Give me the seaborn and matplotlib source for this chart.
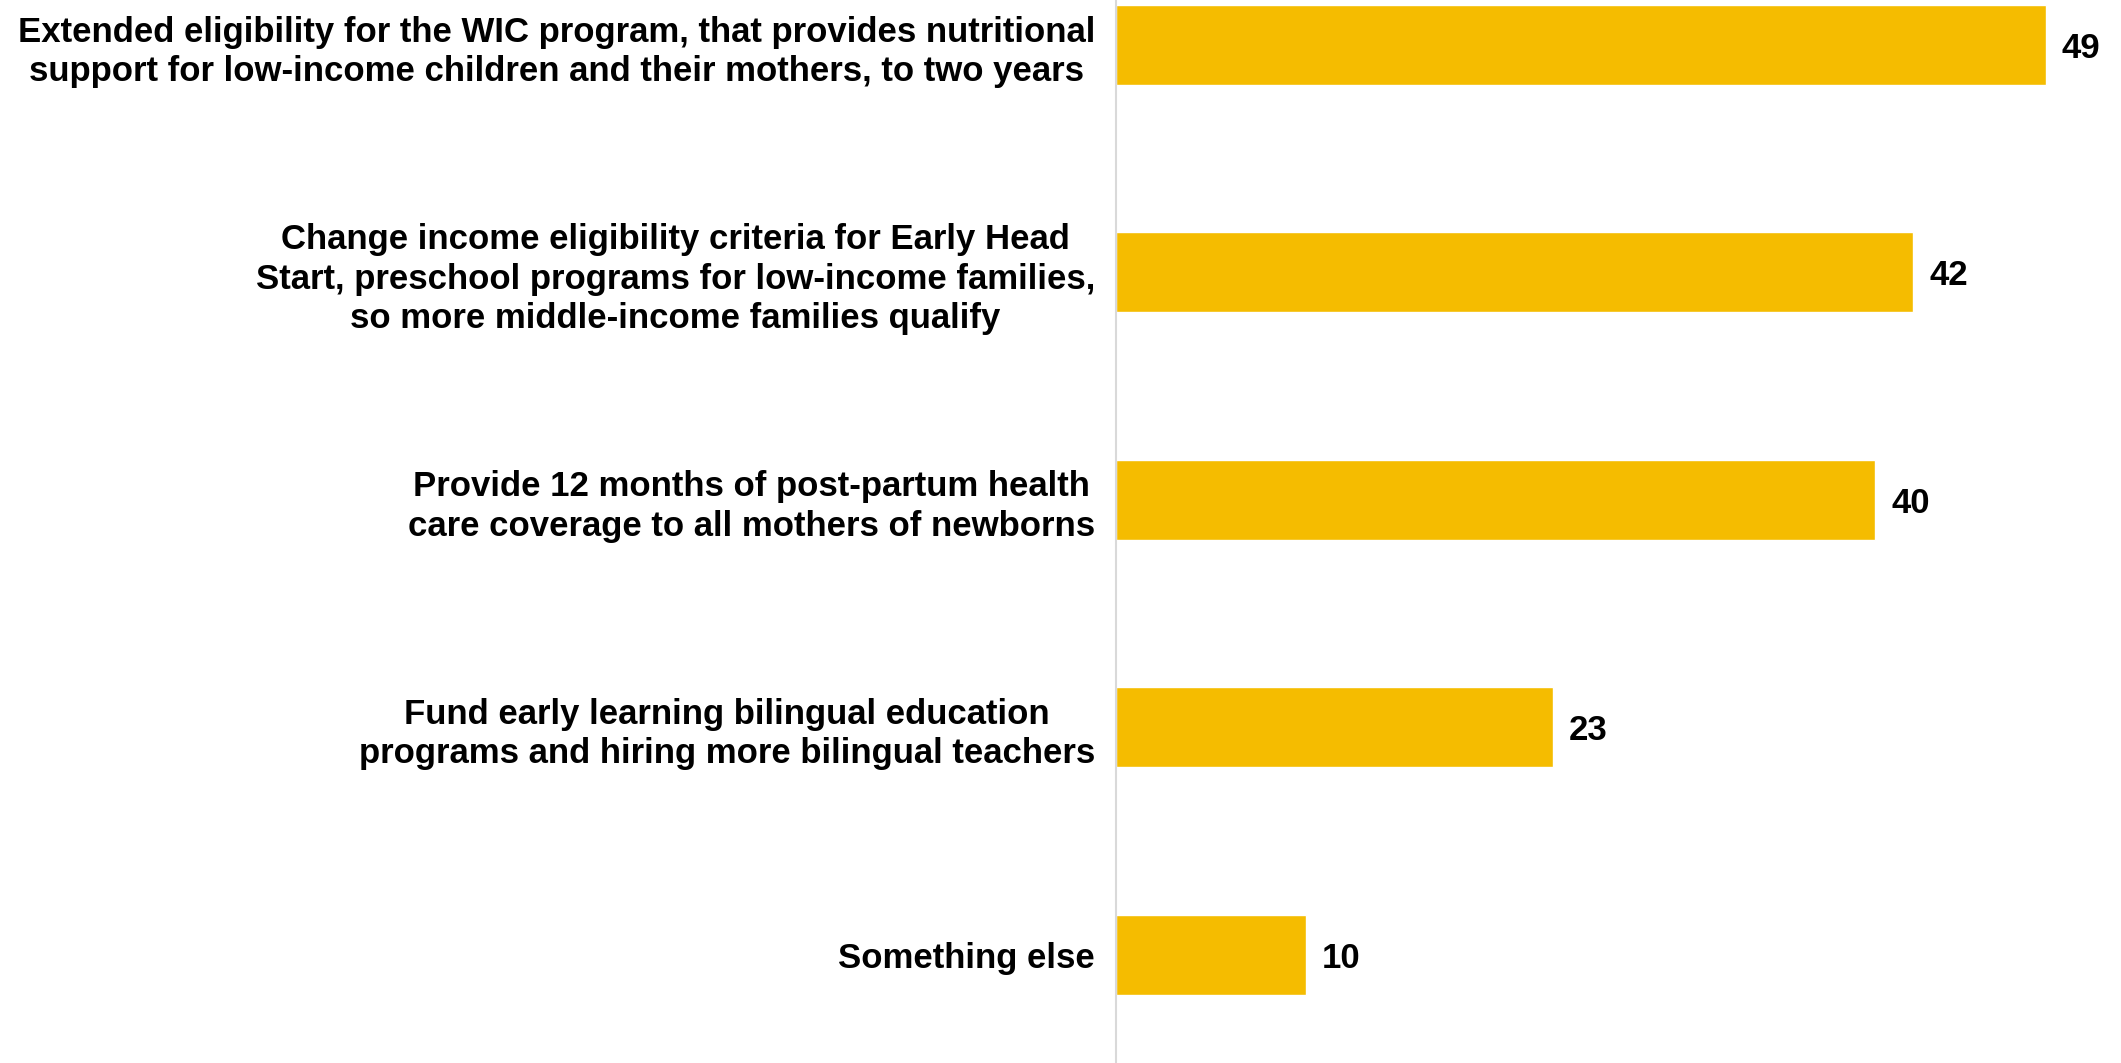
import pandas as pd
import seaborn as sns
import matplotlib.pyplot as plt

sns.set_style('white')
plt.rcParams['font.family'] = ['Liberation Sans', 'DejaVu Sans']

labels = [
    "Extended eligibility for the WIC program, that provides nutritional\nsupport for low-income children and their mothers, to two years",
    "Change income eligibility criteria for Early Head\nStart, preschool programs for low-income families,\nso more middle-income families qualify",
    "Provide 12 months of post-partum health\ncare coverage to all mothers of newborns",
    "Fund early learning bilingual education\nprograms and hiring more bilingual teachers",
    "Something else",
]
values = [49, 42, 40, 23, 10]

df = pd.DataFrame({'label': labels, 'value': values})

fig = plt.figure(figsize=(21.21, 10.63), dpi=100)
ax = fig.add_axes([1116 / 2121, 0, 1 - 1116 / 2121, 1])

sns.barplot(data=df, y='label', x='value', color='#F5BC00', width=0.352,
            saturation=1, ax=ax)

ax.set_xlim(0, 49 * 1005 / 930)
ax.set_ylim(4.477, -0.198)
ax.set_xlabel('')
ax.set_ylabel('')
ax.set_xticks([])

for s in ['top', 'right', 'bottom']:
    ax.spines[s].set_visible(False)
ax.spines['left'].set_color('#D9D9D9')
ax.spines['left'].set_linewidth(1.5)

ax.tick_params(axis='y', length=0, pad=15, labelcolor='black')
for lbl in ax.get_yticklabels():
    lbl.set_fontsize(25)
    lbl.set_fontweight('bold')
    lbl.set_multialignment('center')
    lbl.set_linespacing(1.25)

vals = ax.bar_label(ax.containers[0], fmt='%d', padding=11.5, fontsize=25,
                    fontweight='bold', color='black')
for t in vals:
    t.set_va('center_baseline')

plt.savefig('out.png', dpi=100)
